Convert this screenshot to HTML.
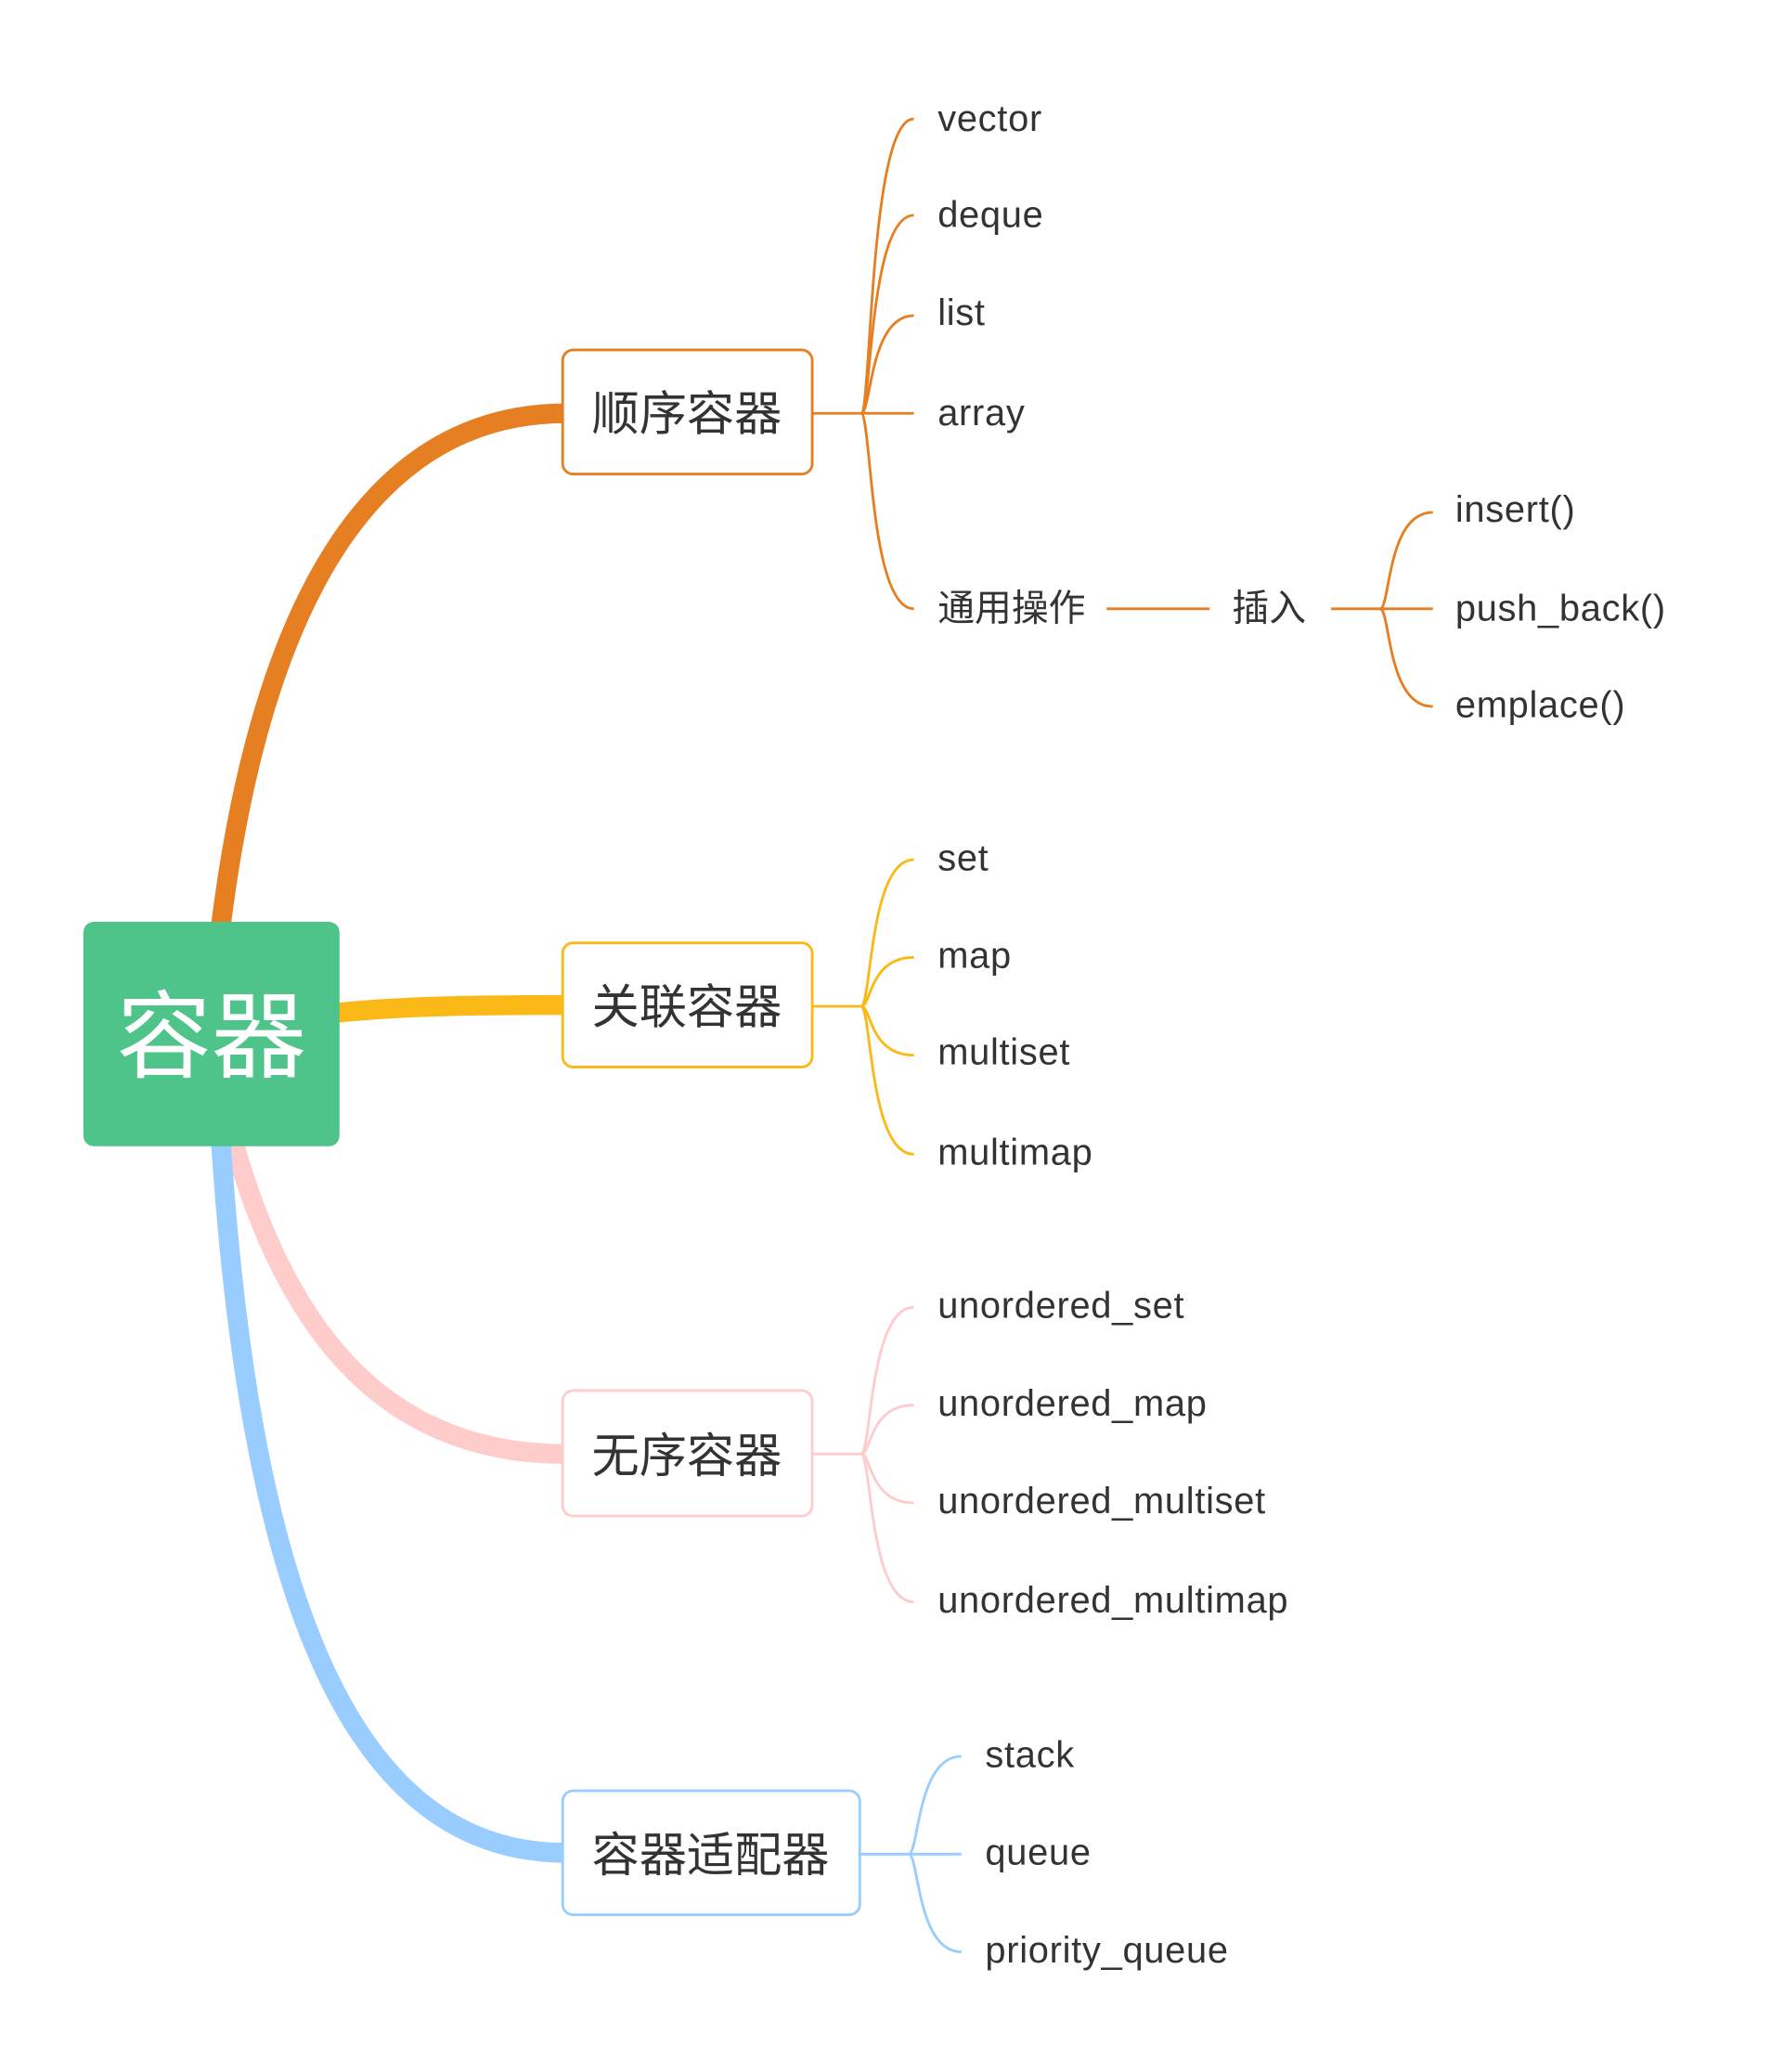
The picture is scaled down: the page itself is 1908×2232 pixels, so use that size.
<!DOCTYPE html>
<html><head><meta charset="utf-8">
<style>
html,body{margin:0;padding:0;background:#fff;}
svg{display:block;}
text{font-family:"Liberation Sans","Noto Sans CJK SC",sans-serif;fill:#333;}
</style></head>
<body>
<svg width="1908" height="2232" viewBox="0 0 1341 1569" xmlns="http://www.w3.org/2000/svg">
<rect width="1341" height="1569" fill="#fff"/>
<g fill="none" stroke-width="15" stroke-linecap="butt">
<path d="M167,702 C200,440 290,313 428,313" stroke="#e67e22"/>
<path d="M255,767 C300,762 360,761 428,761" stroke="#fbb917"/>
<path d="M176,862 C220,1020 300,1101 428,1101" stroke="#ffcccc"/>
<path d="M167,862 C190,1220 270,1403 428,1403" stroke="#99ccff"/>
</g>
<rect x="63" y="698" width="194" height="170" rx="8" fill="#4fc48a"/>
<text x="160" y="810" font-size="72" text-anchor="middle" style="fill:#fff">容器</text>
<g stroke-width="2" fill="#fff">
<rect x="426" y="265" width="189" height="94" rx="8" stroke="#e67e22"/>
<rect x="426" y="714" width="189" height="94" rx="8" stroke="#fbb917"/>
<rect x="426" y="1053" width="189" height="95" rx="8" stroke="#ffcccc"/>
<rect x="426" y="1356" width="225" height="94" rx="8" stroke="#99ccff"/>
</g>
<g font-size="36" text-anchor="middle">
<text x="520" y="326">顺序容器</text>
<text x="520" y="775">关联容器</text>
<text x="520" y="1115">无序容器</text>
<text x="538" y="1417">容器适配器</text>
</g>
<g fill="none" stroke-width="2">
<g stroke="#e67e22">
<path d="M615,313 H692"/>
<path d="M652,313 C660,313 658,90 692,90"/>
<path d="M652,313 C660,313 658,163 692,163"/>
<path d="M652,313 C660,313 658,239 692,239"/>
<path d="M652,313 C660,313 658,461 692,461"/>
<path d="M838,461 H916"/>
<path d="M1008,461 H1085"/>
<path d="M1045,461 C1053,461 1050,388 1085,388"/>
<path d="M1045,461 C1053,461 1050,535 1085,535"/>
</g>
<g stroke="#fbb917">
<path d="M615,762 H652"/>
<path d="M652,762 C660,762 658,651 692,651"/>
<path d="M652,762 C660,762 658,725 692,725"/>
<path d="M652,762 C660,762 658,799 692,799"/>
<path d="M652,762 C660,762 658,874 692,874"/>
</g>
<g stroke="#ffcccc">
<path d="M615,1101 H652"/>
<path d="M652,1101 C660,1101 658,990 692,990"/>
<path d="M652,1101 C660,1101 658,1064 692,1064"/>
<path d="M652,1101 C660,1101 658,1138 692,1138"/>
<path d="M652,1101 C660,1101 658,1213 692,1213"/>
</g>
<g stroke="#99ccff">
<path d="M651,1404 H728"/>
<path d="M688,1404 C696,1404 694,1330 728,1330"/>
<path d="M688,1404 C696,1404 694,1478 728,1478"/>
</g>
</g>
<g font-size="28" letter-spacing="0.5">
<text x="710" y="99">vector</text>
<text x="710" y="172">deque</text>
<text x="710" y="246">list</text>
<text x="710" y="322">array</text>
<text x="710" y="470" letter-spacing="0">通用操作</text>
<text x="933" y="470" letter-spacing="0">插入</text>
<text x="1102" y="395">insert()</text>
<text x="1102" y="470">push_back()</text>
<text x="1102" y="543">emplace()</text>
<text x="710" y="659">set</text>
<text x="710" y="733">map</text>
<text x="710" y="806">multiset</text>
<text x="710" y="882">multimap</text>
<text x="710" y="998">unordered_set</text>
<text x="710" y="1072">unordered_map</text>
<text x="710" y="1146">unordered_multiset</text>
<text x="710" y="1221">unordered_multimap</text>
<text x="746" y="1338">stack</text>
<text x="746" y="1412">queue</text>
<text x="746" y="1486">priority_queue</text>
</g>
</svg>
</body></html>
